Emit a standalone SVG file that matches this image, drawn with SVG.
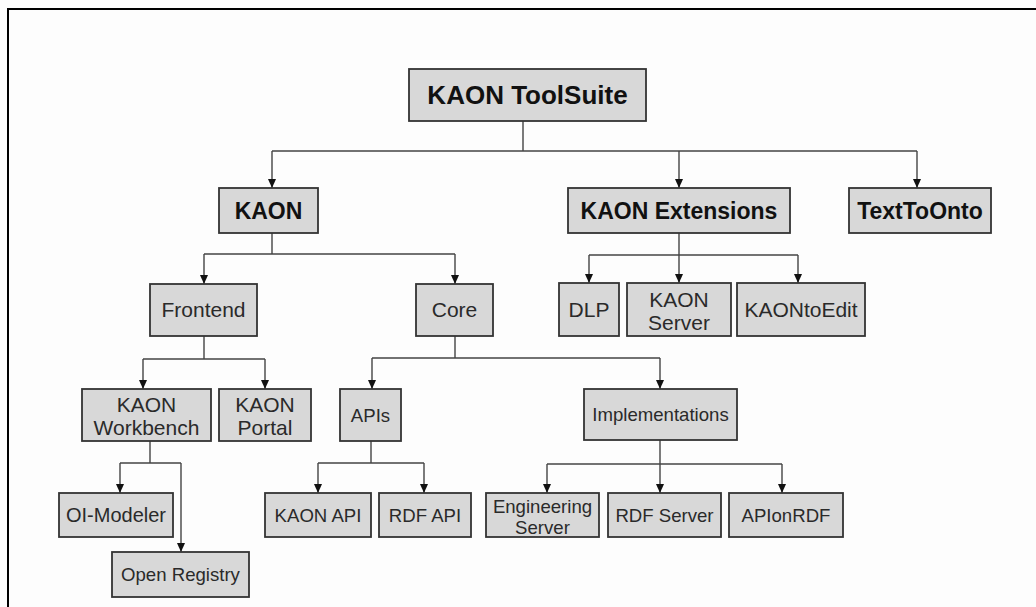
<svg xmlns="http://www.w3.org/2000/svg" width="1036" height="607" viewBox="0 0 1036 607">
<defs>
<style>
.box{fill:#d8d8d8;stroke:#333;stroke-width:1.8}
.b{font-family:"Liberation Sans",Arial,sans-serif;font-weight:bold;fill:#111;text-anchor:middle}
.r{font-family:"Liberation Sans",Arial,sans-serif;fill:#2a2a2a;text-anchor:middle}
.f21{font-size:21px}
.f20{font-size:20px}
.f19{font-size:18.6px}
.ln{fill:none;stroke:#444;stroke-width:1.4}
.ar{fill:none;stroke:#444;stroke-width:1.4;marker-end:url(#ah)}
</style>
<marker id="ah" markerUnits="userSpaceOnUse" markerWidth="9" markerHeight="8" viewBox="0 0 9 8" refX="9" refY="4" orient="auto">
<path d="M0,0 L9,4 L0,8 Z" fill="#111"/>
</marker>
</defs>
<rect width="1036" height="607" fill="#fdfdfd"/>
<path d="M8,607 V9 H1036" fill="none" stroke="#000" stroke-width="2"/>

<g id="connectors">
<path class="ln" d="M523,121 V151 M272,151 H917"/>
<path class="ar" d="M272,151 V188"/>
<path class="ar" d="M679,151 V188"/>
<path class="ar" d="M917,151 V188"/>

<path class="ln" d="M272,233 V254 M204,254 H455"/>
<path class="ar" d="M204,254 V284"/>
<path class="ar" d="M455,254 V284"/>

<path class="ln" d="M589,255 H798"/>
<path class="ar" d="M679,233 V283"/>
<path class="ar" d="M589,255 V283"/>
<path class="ar" d="M798,255 V283"/>

<path class="ln" d="M204,336 V359 M143,359 H265"/>
<path class="ar" d="M143,359 V389"/>
<path class="ar" d="M265,359 V389"/>

<path class="ln" d="M455,336 V358 M372,358 H660"/>
<path class="ar" d="M372,358 V389"/>
<path class="ar" d="M660,358 V389"/>

<path class="ln" d="M150,441 V463 M120,463 H181"/>
<path class="ar" d="M120,463 V493"/>
<path class="ar" d="M181,463 V552"/>

<path class="ln" d="M371,441 V463 M318,463 H424"/>
<path class="ar" d="M318,463 V493"/>
<path class="ar" d="M424,463 V493"/>

<path class="ln" d="M547,464 H782"/>
<path class="ar" d="M660,440 V493"/>
<path class="ar" d="M547,464 V493"/>
<path class="ar" d="M782,464 V493"/>
</g>

<g id="toolsuite"><rect class="box" x="409" y="69" width="237" height="52"/><text class="b" x="527.5" y="104" font-size="26">KAON ToolSuite</text></g>
<g id="kaon"><rect class="box" x="219" y="188" width="99" height="45"/><text class="b" x="268.5" y="219" font-size="23">KAON</text></g>
<g id="kaon-extensions"><rect class="box" x="568" y="188" width="222" height="45"/><text class="b" x="679" y="219" font-size="23">KAON Extensions</text></g>
<g id="texttoonto"><rect class="box" x="849" y="188" width="142" height="45"/><text class="b" x="920" y="219" font-size="23">TextToOnto</text></g>

<g id="frontend"><rect class="box" x="150" y="284" width="107" height="52"/><text class="r f21" x="203.5" y="317">Frontend</text></g>
<g id="core"><rect class="box" x="416" y="284" width="77" height="52"/><text class="r f21" x="454.5" y="317">Core</text></g>
<g id="dlp"><rect class="box" x="559" y="283" width="60" height="53"/><text class="r f21" x="589" y="317">DLP</text></g>
<g id="kaon-server"><rect class="box" x="627" y="283" width="104" height="53"/><text class="r f21" x="679" y="307">KAON</text><text class="r f21" x="679" y="330">Server</text></g>
<g id="kaontoedit"><rect class="box" x="737" y="283" width="128" height="53"/><text class="r f21" x="801" y="317">KAONtoEdit</text></g>

<g id="kaon-workbench"><rect class="box" x="82" y="389" width="129" height="52"/><text class="r f21" x="146.5" y="412">KAON</text><text class="r f21" x="146.5" y="435">Workbench</text></g>
<g id="kaon-portal"><rect class="box" x="219" y="389" width="92" height="52"/><text class="r f21" x="265" y="412">KAON</text><text class="r f21" x="265" y="435">Portal</text></g>
<g id="apis"><rect class="box" x="340" y="389" width="61" height="52"/><text class="r f19" x="370.5" y="421.5">APIs</text></g>
<g id="implementations"><rect class="box" x="584" y="389" width="153" height="51"/><text class="r f19" x="660.5" y="421">Implementations</text></g>

<g id="ol-modeler"><rect class="box" x="59" y="493" width="114" height="44"/><text class="r f20" x="116" y="522">OI-Modeler</text></g>
<g id="open-registry"><rect class="box" x="112" y="552" width="137" height="45"/><text class="r f19" x="180.5" y="581">Open Registry</text></g>
<g id="kaon-api"><rect class="box" x="265" y="493" width="106" height="44"/><text class="r f19" x="318" y="522">KAON API</text></g>
<g id="rdf-api"><rect class="box" x="379" y="493" width="92" height="44"/><text class="r f19" x="425" y="522">RDF API</text></g>
<g id="engineering-server"><rect class="box" x="486" y="493" width="113" height="44"/><text class="r f19" x="542.5" y="513">Engineering</text><text class="r f19" x="542.5" y="534">Server</text></g>
<g id="rdf-server"><rect class="box" x="608" y="493" width="113" height="44"/><text class="r f19" x="664.5" y="522">RDF Server</text></g>
<g id="apionrdf"><rect class="box" x="729" y="493" width="114" height="44"/><text class="r f19" x="786" y="522">APIonRDF</text></g>
</svg>
